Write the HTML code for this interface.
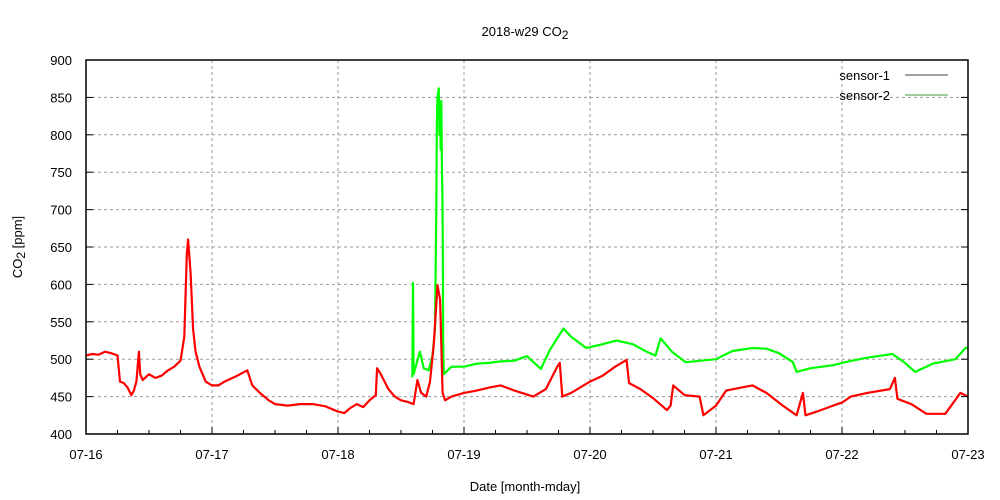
<!DOCTYPE html>
<html><head><meta charset="utf-8"><style>
body{margin:0;background:#fff;}
svg{display:block;font-family:"Liberation Sans",sans-serif;font-size:13px;}
</style></head><body>
<svg id="chart" width="1000" height="500">
<g id="grid"></g>
<g id="series"></g>
<rect x="86" y="60" width="882" height="374" fill="none" stroke="#000" stroke-width="1.5"/>
<g id="ticks"></g>
<text x="525" y="36" text-anchor="middle">2018-w29 CO<tspan dy="3" font-size="12">2</tspan></text>
<text transform="translate(22,247) rotate(-90)" text-anchor="middle">CO<tspan dy="3" font-size="12">2</tspan><tspan dy="-3"> [ppm]</tspan></text>
<text x="525" y="491" text-anchor="middle">Date [month-mday]</text>
<g>
<text x="890" y="80" text-anchor="end">sensor-1</text>
<line x1="905" y1="75" x2="948" y2="75" stroke="#000" stroke-width="0.8"/>
<text x="890" y="100" text-anchor="end">sensor-2</text>
<line x1="905" y1="95" x2="948" y2="95" stroke="#070" stroke-width="0.8"/>
</g>
</svg>
<script>
const xTickLabels=["07-16","07-17","07-18","07-19","07-20","07-21","07-22","07-23"];
const yTickValues=[400,450,500,550,600,650,700,750,800,850,900];
const s1Days=[0,0.05,0.1,0.15,0.2,0.25,0.27,0.3,0.33,0.36,0.38,0.4,0.42,0.43,0.45,0.5,0.55,0.6,0.65,0.7,0.75,0.78,0.8,0.81,0.83,0.85,0.87,0.9,0.95,1.0,1.05,1.1,1.2,1.28,1.32,1.38,1.45,1.5,1.6,1.7,1.8,1.9,2.0,2.05,2.1,2.15,2.2,2.25,2.3,2.31,2.34,2.4,2.45,2.5,2.55,2.6,2.63,2.66,2.7,2.73,2.76,2.79,2.81,2.83,2.85,2.9,3.0,3.1,3.2,3.29,3.4,3.55,3.65,3.74,3.76,3.78,3.85,4.0,4.1,4.2,4.29,4.31,4.4,4.5,4.61,4.64,4.66,4.75,4.87,4.9,5.0,5.08,5.2,5.29,5.4,5.53,5.64,5.69,5.71,5.8,5.93,6.0,6.07,6.2,6.38,6.42,6.44,6.55,6.67,6.82,6.94,7.0];
const s1Vals=[505,507,506,510,508,505,470,468,462,452,458,470,510,480,472,480,475,478,485,490,498,530,640,660,615,540,510,490,470,465,465,470,478,485,465,455,445,440,438,440,440,437,430,428,435,440,436,445,452,488,480,460,450,445,443,440,472,455,450,470,520,599,580,455,445,450,455,458,462,465,458,450,460,490,495,450,455,470,478,490,499,468,460,448,432,438,465,452,450,425,438,458,462,465,455,438,425,455,425,430,438,442,450,455,460,475,447,440,427,427,455,450];
const s2Days=[2.59,2.595,2.6,2.62,2.65,2.68,2.72,2.75,2.77,2.78,2.785,2.79,2.8,2.805,2.81,2.815,2.82,2.825,2.83,2.835,2.84,2.87,2.9,3.0,3.1,3.2,3.29,3.4,3.5,3.61,3.68,3.79,3.85,3.97,4.1,4.21,4.34,4.45,4.52,4.56,4.65,4.76,4.88,5.0,5.13,5.29,5.4,5.5,5.61,5.64,5.75,5.93,6.05,6.2,6.4,6.5,6.58,6.72,6.9,6.98,7.0];
const s2Vals=[476,602,480,492,510,488,485,505,540,700,820,850,862,800,830,780,845,760,700,520,480,485,490,490,494,495,497,498,504,487,512,541,530,515,520,525,520,510,505,528,510,496,498,500,511,515,514,508,496,483,488,492,497,502,507,495,483,494,500,515,515];
const X0=86,X1=968,Y0=434,Y1=60;
const xs=d=>X0+(X1-X0)*d/7;
const ys=v=>Y0-(Y0-Y1)*(v-400)/500;
const NS="http://www.w3.org/2000/svg";
const grid=document.getElementById('grid'),ticks=document.getElementById('ticks'),series=document.getElementById('series');
function mk(tag,attrs,parent){const e=document.createElementNS(NS,tag);for(const k in attrs)e.setAttribute(k,attrs[k]);parent.appendChild(e);return e;}
yTickValues.forEach(v=>{
  const y=ys(v);
  if(v>400&&v<900){const g=mk('line',{x1:X0,x2:X1,y1:y,y2:y,stroke:'#999','stroke-dasharray':'3,3'},grid);
  
  }
  const t=mk('line',{x1:X0,x2:X0+7,y1:y,y2:y,stroke:'#000'},ticks);
  
  
  const t2=mk('line',{x1:X1-7,x2:X1,y1:y,y2:y,stroke:'#000'},ticks);
  
  
  const l=mk('text',{x:72,y:y+5,'text-anchor':'end'},ticks);l.textContent=v;
  
  
});
xTickLabels.forEach((s,i)=>{
  const x=xs(i);
  if(i>0&&i<7){const g=mk('line',{x1:x,x2:x,y1:Y1,y2:Y0,stroke:'#999','stroke-dasharray':'3,3'},grid);
  
  }
  const t=mk('line',{x1:x,x2:x,y1:Y0,y2:Y0-7,stroke:'#000'},ticks);
  
  
  if(i<7)for(let m=1;m<4;m++){const xm=xs(i+m/4);const mt=mk('line',{x1:xm,x2:xm,y1:Y0,y2:Y0-4,stroke:'#000'},ticks);
    
    }
  const l=mk('text',{x:x,y:459,'text-anchor':'middle'},ticks);l.textContent=s;
  
  
});
function line(days,vals,color,name){
  const d=days.map((t,i)=>(i?'L':'M')+xs(t).toFixed(1)+','+ys(vals[i]).toFixed(1)).join('');
  const p=mk('path',{d:d,fill:'none',stroke:color,'stroke-width':2.2,'stroke-linejoin':'round'},series);
  
  
}
line(s2Days,s2Vals,'#00ff00','sensor-2-line');
line(s1Days,s1Vals,'#ff0000','sensor-1-line');
</script>
</body></html>
